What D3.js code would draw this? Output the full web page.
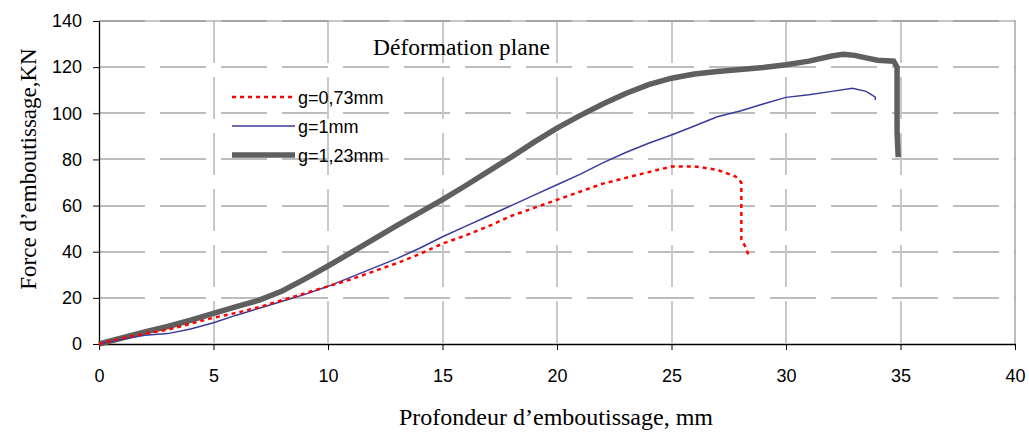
<!DOCTYPE html>
<html>
<head>
<meta charset="utf-8">
<script src="https://cdn.jsdelivr.net/npm/d3@7"></script>
<style>
  body { margin: 0; background: #fff; }
  .tick text { font-family: "Liberation Sans", Arial, sans-serif; font-size: 18px; fill: #000; }
  .serif { font-family: "Liberation Serif", "Times New Roman", serif; }
</style>
</head>
<body>
<div id="chart"></div>
<script>
// ---- data ----
const xTicks = [0, 5, 10, 15, 20, 25, 30, 35, 40];
const yTicks = [0, 20, 40, 60, 80, 100, 120, 140];
const seriesNames = ["g=0,73mm", "g=1mm", "g=1,23mm"];

const redX = [0, 1, 2, 3, 4, 5, 6, 7, 8, 9, 10, 11, 12, 13, 14, 15, 16, 17, 18, 19, 20, 21, 22, 23, 24, 25, 26, 27, 27.8, 28.05, 28.05, 28.25, 28.38];
const redY = [0, 2.5, 4.5, 6.2, 8.8, 11.4, 13.5, 16, 19, 22, 25, 28, 31.5, 35, 39, 43.5, 47, 51, 55.5, 59, 62.5, 66, 69.5, 72, 74.5, 76.9, 77, 75.5, 72.6, 70, 45.2, 41.8, 37.9];

const blueX = [0, 1, 2, 3, 4, 5, 6, 7, 8, 9, 10, 11, 12, 13, 14, 15, 16, 17, 18, 19, 20, 21, 22, 23, 24, 25, 26, 27, 28, 29, 30, 31, 32, 32.9, 33.5, 33.9, 33.9];
const blueY = [0, 2, 3.8, 4.5, 6.5, 9.2, 12.5, 15.5, 18.5, 21.5, 25, 29, 33, 37, 41.5, 46.5, 51, 55.5, 60, 64.5, 69, 73.5, 78.5, 83, 87, 90.6, 94.5, 98.5, 101, 104, 106.9, 108, 109.5, 110.8, 109.5, 107, 105.8];

const grayX = [0, 1, 2, 3, 4, 5, 6, 7, 8, 9, 10, 11, 12, 13, 14, 15, 16, 17, 18, 19, 20, 21, 22, 23, 24, 25, 26, 27, 28, 29, 30, 31, 32, 32.5, 33, 33.5, 34, 34.7, 34.85, 34.85, 34.9];
const grayY = [0, 2.6, 5.2, 7.6, 10.3, 13.3, 16.2, 19, 23, 28.2, 33.8, 39.6, 45.5, 51.3, 56.9, 62.6, 68.6, 74.8, 81, 87.5, 93.6, 99, 104, 108.6, 112.4, 115.2, 117, 118.1, 119, 119.8, 121, 122.6, 124.8, 125.6, 125.1, 124, 123, 122.6, 120, 92, 81];

// ---- layout ----
const W = 1029, H = 432;
const margin = { top: 21, right: 14, bottom: 88, left: 99 };
const width = W - margin.left - margin.right;
const height = H - margin.top - margin.bottom;

const svg = d3.select("#chart").append("svg")
    .attr("width", W)
    .attr("height", H);

const g = svg.append("g")
    .attr("transform", "translate(" + margin.left + "," + margin.top + ")");

const xScale = d3.scaleLinear().domain([0, 40]).range([0, width]);
const yScale = d3.scaleLinear().domain([0, 140]).range([height, 0]);

// gridlines (light gray, broken like the original)
g.append("g")
    .attr("class", "grid-h")
    .selectAll("line")
    .data(yTicks.slice(1))
    .enter()
    .append("line")
    .attr("x1", 0)
    .attr("x2", width)
    .attr("y1", d => Math.round(yScale(d)))
    .attr("y2", d => Math.round(yScale(d)))
    .attr("shape-rendering", "crispEdges")
    .style("stroke", "#bdbdbd")
    .style("stroke-width", 2)
    .style("stroke-dasharray", "46,15");

g.append("g")
    .attr("class", "grid-v")
    .selectAll("line")
    .data(xTicks.slice(1, -1))
    .enter()
    .append("line")
    .attr("x1", d => Math.round(xScale(d)))
    .attr("x2", d => Math.round(xScale(d)))
    .attr("y1", 0)
    .attr("y2", height)
    .attr("shape-rendering", "crispEdges")
    .style("stroke", "#c8c8c8")
    .style("stroke-width", 2)
    .style("stroke-dasharray", "42,14");

// plot border (top and right gray)
g.append("path")
    .attr("d", "M0,0H" + width + "V" + height)
    .attr("fill", "none")
    .style("stroke", "#909090")
    .style("stroke-width", 1.2);

// axes
const xAxis = g.append("g")
    .attr("class", "x axis")
    .attr("transform", "translate(0," + height + ")")
    .call(d3.axisBottom(xScale).tickValues(xTicks).tickSize(6).tickPadding(19).tickSizeOuter(0));

const yAxis = g.append("g")
    .attr("class", "y axis")
    .call(d3.axisLeft(yScale).tickValues(yTicks).tickSize(6).tickPadding(11).tickSizeOuter(0));

[xAxis, yAxis].forEach(a => {
    a.select(".domain").style("stroke", "#000").style("stroke-width", 1.3);
    a.selectAll(".tick line").style("stroke", "#000");
});

// lines
const line = d3.line()
    .x(d => xScale(d[0]))
    .y(d => yScale(d[1]));

const zip = (xs, ys) => xs.map((x, i) => [x, ys[i]]);

g.append("path")
    .datum(zip(grayX, grayY))
    .attr("d", line)
    .attr("fill", "none")
    .style("stroke", "#5f5f5f")
    .style("stroke-width", 5.5)
    .style("stroke-linejoin", "miter");

g.append("path")
    .datum(zip(blueX, blueY))
    .attr("d", line)
    .attr("fill", "none")
    .style("stroke", "#3a3a9c")
    .style("stroke-width", 1.5);

g.append("path")
    .datum(zip(redX, redY))
    .attr("d", line)
    .attr("fill", "none")
    .style("stroke", "#ff0000")
    .style("stroke-width", 2.5)
    .style("stroke-dasharray", "4,4");

// title inside plot
svg.append("text")
    .attr("class", "serif")
    .attr("x", 373)
    .attr("y", 55)
    .style("font-size", "23.5px")
    .text("Déformation plane");

// legend
const legendStyles = [
    { color: "#ff0000", w: 2.5, dash: "4,4" },
    { color: "#3a3a9c", w: 1.5, dash: null },
    { color: "#5f5f5f", w: 5.5, dash: null }
];
const legend = svg.selectAll(".legend")
    .data(seriesNames)
    .enter()
    .append("g")
    .attr("class", "legend")
    .attr("transform", (d, i) => "translate(0," + (97 + i * 29) + ")");

legend.append("line")
    .attr("x1", 232)
    .attr("x2", 295)
    .attr("y1", 0)
    .attr("y2", 0)
    .style("stroke", (d, i) => legendStyles[i].color)
    .style("stroke-width", (d, i) => legendStyles[i].w)
    .style("stroke-dasharray", (d, i) => legendStyles[i].dash);

legend.append("text")
    .attr("x", 298)
    .attr("y", 6.5)
    .style("font-family", "'Liberation Sans', Arial, sans-serif")
    .style("font-size", "18px")
    .text(d => d);

// axis titles
svg.append("text")
    .attr("class", "serif")
    .attr("x", 556)
    .attr("y", 425)
    .style("text-anchor", "middle")
    .style("font-size", "24px")
    .text("Profondeur d’emboutissage, mm");

svg.append("text")
    .attr("class", "serif")
    .attr("transform", "translate(36,169) rotate(-90)")
    .style("text-anchor", "middle")
    .style("font-size", "23px")
    .text("Force d’emboutissage,KN");
</script>
</body>
</html>
